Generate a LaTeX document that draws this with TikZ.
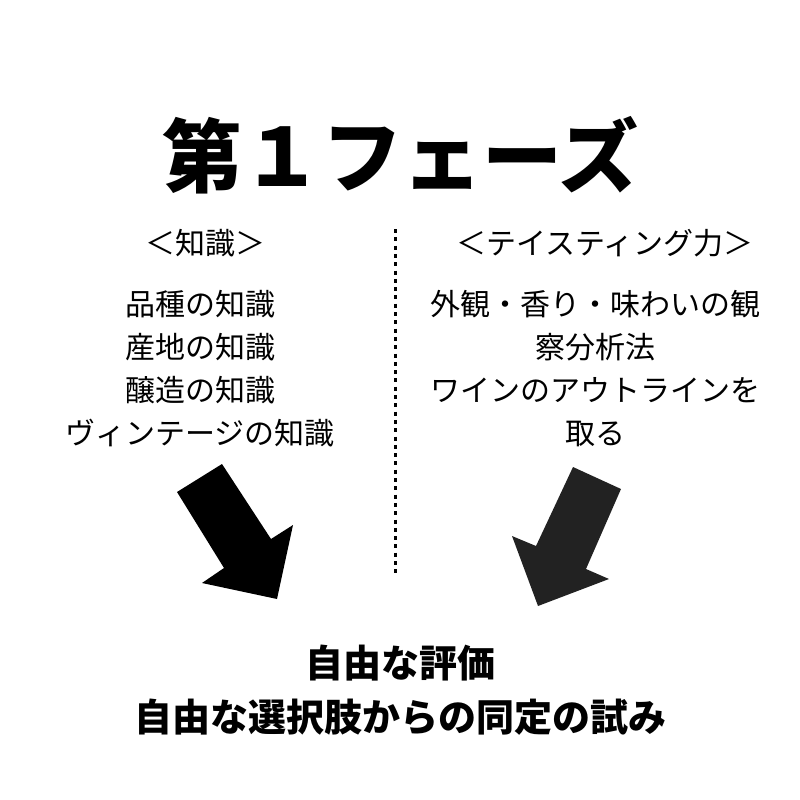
\documentclass[tikz,border=0pt]{standalone}
\usepackage{fontspec}
\setmainfont{Noto Sans CJK JP}
\definecolor{arrowgray}{HTML}{222222}
\tikzset{
  body/.style={align=center, inner sep=0pt, font=\fontsize{30}{43}\selectfont},
  heading/.style={inner sep=0pt, font=\fontsize{30}{36}\selectfont},
}
\begin{document}
\begin{tikzpicture}[x=1pt,y=-1pt]
  \useasboundingbox (0,0) rectangle (800,800);
  \node[inner sep=0pt, font=\fontsize{80}{90}\selectfont\bfseries] (title) at (400,155) {第１フェーズ};
  \draw
    (205,243) node[heading] (knowhead){＜知識＞}
    (605,243) node[heading] (tastehead){＜テイスティング力＞}
    (200,369) node[body] (know){品種の知識\\産地の知識\\醸造の知識\\ヴィンテージの知識}
    (595,369) node[body] (taste){外観・香り・味わいの観\\察分析法\\ワインのアウトラインを\\取る};
  \coordinate (divtop) at (395,229);
  \coordinate (divbot) at (395,574);
  \draw[line width=3pt, dash pattern=on 4pt off 4.3pt] (divtop) -- (divbot);
  % arrows
  \fill[black] (177,492) -- (222,464) -- (271,539) -- (293,525) -- (277,599)
    -- (202,583) -- (224,568) -- cycle;
  \fill[arrowgray] (573,467) -- (621,489) -- (586,569) -- (609,579) -- (538,606)
    -- (512,536) -- (536,546) -- cycle;
  \node[align=center, inner sep=0pt, font=\fontsize{38}{54}\selectfont\bfseries] (result) at (400,690)
    {自由な評価\\自由な選択肢からの同定の試み};
\end{tikzpicture}
\end{document}
